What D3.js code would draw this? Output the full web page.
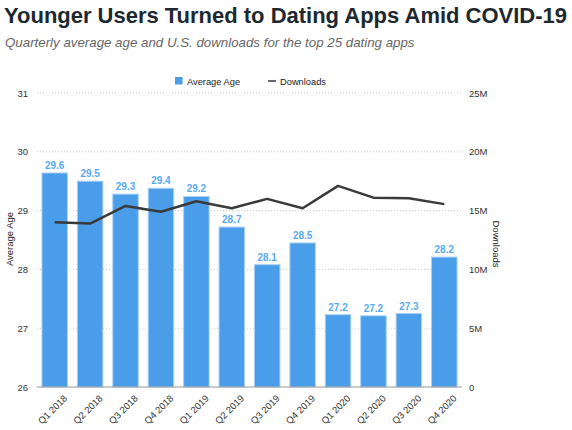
<!DOCTYPE html>
<html>
<head>
<meta charset="utf-8">
<script src="https://cdn.jsdelivr.net/npm/d3@7"></script>
<style>
  body { margin: 0; background: #fff; font-family: "Liberation Sans", Arial, sans-serif; }
</style>
</head>
<body>
<script>
// chart data
var quarters = ["Q1 2018","Q2 2018","Q3 2018","Q4 2018","Q1 2019","Q2 2019","Q3 2019","Q4 2019","Q1 2020","Q2 2020","Q3 2020","Q4 2020"];
var avgAge = [29.64, 29.5, 29.28, 29.38, 29.24, 28.72, 28.08, 28.45, 27.23, 27.21, 27.25, 28.21];
var ageLabels = ["29.6","29.5","29.3","29.4","29.2","28.7","28.1","28.5","27.2","27.2","27.3","28.2"];
var downloads = [14.0, 13.9, 15.4, 14.9, 15.8, 15.2, 16.0, 15.2, 17.1, 16.1, 16.05, 15.55]; // millions
var ageTicks = [26, 27, 28, 29, 30, 31];
var dlTicks = [0, 5, 10, 15, 20, 25];

var W = 572, H = 430;
var margin = {top: 93, right: 110, bottom: 43, left: 37};
var width = W - margin.left - margin.right;
var height = H - margin.top - margin.bottom;

var svg = d3.select("body").append("svg")
    .attr("width", W)
    .attr("height", H);

// title + subtitle
svg.append("text")
    .attr("x", 4).attr("y", 23)
    .attr("font-size", 22).attr("font-weight", "bold")
    .attr("fill", "#1d2830")
    .attr("textLength", 563).attr("lengthAdjust", "spacingAndGlyphs")
    .text("Younger Users Turned to Dating Apps Amid COVID-19");
svg.append("text")
    .attr("x", 5).attr("y", 47)
    .attr("font-size", 13.3).attr("font-style", "italic")
    .attr("fill", "#666")
    .text("Quarterly average age and U.S. downloads for the top 25 dating apps");

var g = svg.append("g")
    .attr("transform", "translate(" + margin.left + "," + margin.top + ")");

// scales
var x = d3.scaleBand().domain(quarters).range([0, width]).paddingInner(0.28).paddingOuter(0.14);
var y = d3.scaleLinear().domain([26, 31]).range([height, 0]);
var y2 = d3.scaleLinear().domain([0, 25]).range([height, 0]);

// dotted gridlines
g.selectAll("line.grid")
    .data(ageTicks.slice(1))
  .enter().append("line")
    .attr("class", "grid")
    .attr("x1", 0).attr("x2", width)
    .attr("y1", function(d) { return y(d); })
    .attr("y2", function(d) { return y(d); })
    .attr("stroke", "#c8c8c8")
    .attr("stroke-dasharray", "1,2");

// left axis
var yAxis = g.append("g").call(d3.axisLeft(y).tickValues(ageTicks).tickSize(0).tickPadding(9).tickFormat(d3.format("d")));
yAxis.select(".domain").remove();
yAxis.selectAll("text").attr("font-size", 9.5).attr("fill", "#333").attr("font-family", "Liberation Sans, Arial, sans-serif");

// right axis
var yAxis2 = g.append("g")
    .attr("transform", "translate(" + width + ",0)")
    .call(d3.axisRight(y2).tickValues(dlTicks).tickSize(0).tickPadding(7)
        .tickFormat(function(d) { return d === 0 ? "0" : d + "M"; }));
yAxis2.select(".domain").remove();
yAxis2.selectAll("text").attr("font-size", 9.5).attr("fill", "#333").attr("font-family", "Liberation Sans, Arial, sans-serif");

// bars
g.selectAll("rect.bar")
    .data(avgAge)
  .enter().append("rect")
    .attr("class", "bar")
    .attr("x", function(d, i) { return x(quarters[i]); })
    .attr("y", function(d) { return y(d); })
    .attr("width", x.bandwidth())
    .attr("height", function(d) { return height - y(d); })
    .attr("fill", "#4a9de8")
    .attr("stroke", "#a9d0f5")
    .attr("stroke-width", 1);

// bar value labels
g.selectAll("text.val")
    .data(avgAge)
  .enter().append("text")
    .attr("class", "val")
    .attr("x", function(d, i) { return x(quarters[i]) + x.bandwidth() / 2; })
    .attr("y", function(d) { return y(d) - 4; })
    .attr("text-anchor", "middle")
    .attr("font-size", 10)
    .attr("font-weight", "bold")
    .attr("fill", "#5aaaf2")
    .text(function(d, i) { return ageLabels[i]; });

// bottom axis line
g.append("line")
    .attr("x1", 0).attr("x2", width)
    .attr("y1", height).attr("y2", height)
    .attr("stroke", "#999").attr("stroke-width", 1.2);

// x labels
g.selectAll("text.xl")
    .data(quarters)
  .enter().append("text")
    .attr("class", "xl")
    .attr("transform", function(d) {
        return "translate(" + (x(d) + x.bandwidth() / 2 + 13) + "," + (height + 12) + ") rotate(-45)";
    })
    .attr("text-anchor", "end")
    .attr("font-size", 9.5)
    .attr("fill", "#333")
    .text(function(d) { return d; });

// downloads line
var line = d3.line()
    .x(function(d, i) { return x(quarters[i]) + x.bandwidth() / 2; })
    .y(function(d) { return y2(d); });
g.append("path")
    .datum(downloads)
    .attr("d", line)
    .attr("fill", "none")
    .attr("stroke", "#3a3a3a")
    .attr("stroke-width", 2.5)
    .attr("stroke-linejoin", "round");

// axis titles
svg.append("text")
    .attr("transform", "translate(13,239) rotate(-90)")
    .attr("text-anchor", "middle")
    .attr("font-size", 9.5).attr("fill", "#222")
    .text("Average Age");
svg.append("text")
    .attr("transform", "translate(493,244) rotate(90)")
    .attr("text-anchor", "middle")
    .attr("font-size", 9.5).attr("fill", "#222")
    .text("Downloads");

// legend
var leg = svg.append("g").attr("transform", "translate(175,77)");
leg.append("rect").attr("x", 0).attr("y", 0).attr("width", 7.5).attr("height", 7.5).attr("fill", "#4a9de8");
leg.append("text").attr("x", 12).attr("y", 7.5).attr("font-size", 9.3).attr("fill", "#222").text("Average Age");
leg.append("line").attr("x1", 93).attr("x2", 101).attr("y1", 4).attr("y2", 4).attr("stroke", "#3a3a3a").attr("stroke-width", 1.5);
leg.append("text").attr("x", 105).attr("y", 7.5).attr("font-size", 9.3).attr("fill", "#222").text("Downloads");
</script>
</body>
</html>
